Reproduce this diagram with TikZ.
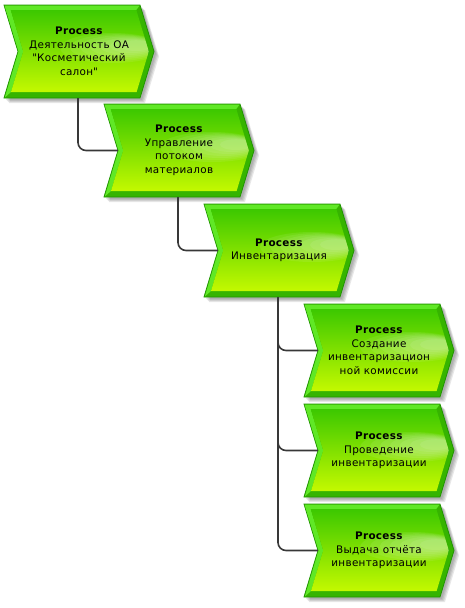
\documentclass[tikz,border=0pt]{standalone}
\usepackage{fontspec}
\setmainfont{DejaVu Sans}[LetterSpace=3]
\usetikzlibrary{calc}

\definecolor{procline}{HTML}{1F9400}
\definecolor{proclight}{HTML}{60E826}
\definecolor{procdark}{HTML}{36B400}
\definecolor{proctop}{HTML}{3CC800}
\definecolor{procbottom}{HTML}{C4F900}
\definecolor{wire}{HTML}{383838}

\tikzset{
  proctext/.style={rectangle, minimum width=150pt, minimum height=93pt,
    inner sep=0pt, outer sep=0pt, align=center, text=black,
    font=\fontsize{10.4}{13.5}\selectfont},
  wire/.style={draw=wire, line width=1.6pt, rounded corners=8pt},
}

% #1 node name, #2 left x, #3 top y (downwards), #4 label
\newcommand\procshape[4]{%
  \begin{scope}[shift={(#2pt,-#3pt)}]
    % soft drop shadow
    \foreach \s in {2,3,4,5}{
      \fill[black, opacity=0.09, shift={(\s pt,-\s pt)}]
        (0,0) -- (136,0) -- (150,-46.5) -- (136,-93) -- (0,-93) -- (14,-46.5) -- cycle;
    }
    % dark bevel (right and bottom) with outline
    \fill[procdark, draw=procline, line width=0.8pt]
      (0,0) -- (136,0) -- (150,-46.5) -- (136,-93) -- (0,-93) -- (14,-46.5) -- cycle;
    % light bevel (top and left)
    \fill[proclight]
      (0.5,-0.5) -- (135.6,-0.5) -- (132.3,-5) -- (6.7,-5) -- (19.2,-46.5)
      -- (7,-87) -- (0.8,-92.5) -- (14.5,-46.5) -- cycle;
    % face with vertical gradient
    \shade[top color=proctop, bottom color=procbottom]
      (6.7,-5) -- (132.3,-5) -- (144.8,-46.5) -- (132.6,-87) -- (7,-87) -- (19.2,-46.5) -- cycle;
    % gloss highlight
    \begin{scope}
      \clip (6.7,-5) -- (132.3,-5) -- (144.8,-46.5) -- (132.6,-87) -- (7,-87) -- (19.2,-46.5) -- cycle;
      \foreach \k in {0,...,6}{
        \fill[white, opacity=0.08]
          ({108+4*\k},{-43+0.4*\k}) ellipse ({52-6*\k} and {15-1.6*\k});
      }
    \end{scope}
    \node[proctext] (#1) at (75,-46.5) {#4};
  \end{scope}
}

\begin{document}
\begin{tikzpicture}[x=1pt, y=1pt]
  \useasboundingbox (0,0) rectangle (464,-608);

  \procshape{act}{4}{5}{\textbf{Process}\\Деятельность ОА\\\textquotedbl Косметический\\салон\textquotedbl}
  \procshape{flow}{104}{104}{\textbf{Process}\\Управление\\потоком\\материалов}
  \procshape{inv}{204}{204}{\textbf{Process}\\Инвентаризация}
  \procshape{comm}{304}{304}{\textbf{Process}\\Создание\\инвентаризацион\\ной комиссии}
  \procshape{run}{304}{404}{\textbf{Process}\\Проведение\\инвентаризации}
  \procshape{report}{304}{504}{\textbf{Process}\\Выдача отчёта\\инвентаризации}

  % hierarchy connectors
  \draw[wire] ($(act.south west)+(74,0)$) |- ($(flow.west)+(14,0)$);
  \draw[wire] ($(flow.south west)+(74,0)$) |- ($(inv.west)+(14,0)$);
  \draw[wire] ($(inv.south west)+(74,0)$) |- ($(comm.west)+(14,0)$);
  \draw[wire] ($(inv.south west)+(74,0)$) |- ($(run.west)+(14,0)$);
  \draw[wire] ($(inv.south west)+(74,0)$) |- ($(report.west)+(14,0)$);
\end{tikzpicture}
\end{document}
